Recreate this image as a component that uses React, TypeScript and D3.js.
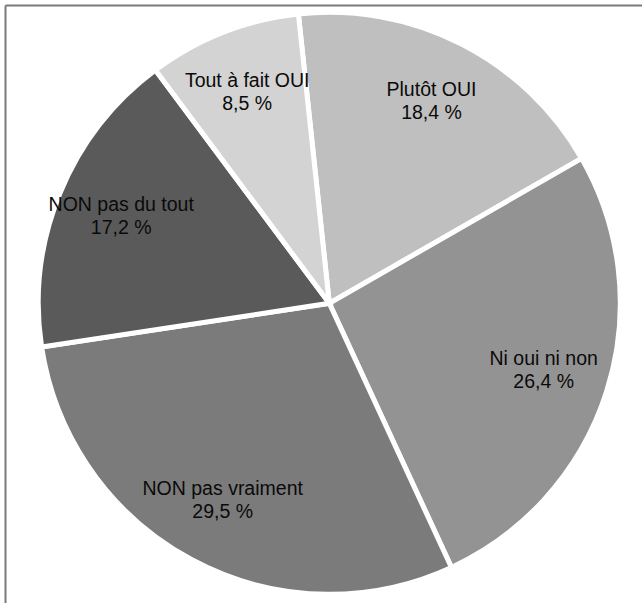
import React from "react";
import * as d3 from "d3";

const categories = ["Plutôt OUI", "Ni oui ni non", "NON pas vraiment", "NON pas du tout", "Tout à fait OUI"];
const values = [18.4, 26.4, 29.5, 17.2, 8.5];
const valueLabels = ["18,4 %", "26,4 %", "29,5 %", "17,2 %", "8,5 %"];
const colors = ["#bfbfbf", "#939393", "#7b7b7b", "#5a5a5a", "#d3d3d3"];

const W = 642;
const H = 603;
const CX = 329.3;
const CY = 303.3;
const R = 291;
const LABEL_R = 225;
const START_DEG = -6.1;

export default function App() {
  const start = (START_DEG * Math.PI) / 180;
  const pie = d3
    .pie<number>()
    .sort(null)
    .value((d) => d)
    .startAngle(start)
    .endAngle(start + 2 * Math.PI);
  const arcs = pie(values);
  const arc = d3.arc<d3.PieArcDatum<number>>().innerRadius(0).outerRadius(R);
  const labelArc = d3.arc<d3.PieArcDatum<number>>().innerRadius(LABEL_R).outerRadius(LABEL_R);

  return (
    <svg
      width={W}
      height={H}
      style={{ position: "absolute", left: 0, top: 0, background: "#fff" }}
      fontFamily="'Liberation Sans', Arial, Helvetica, sans-serif"
    >
      <rect x={0} y={0} width={W} height={H} fill="#fff" />
      <line x1={5.5} y1={5.5} x2={W} y2={5.5} stroke="#7a7a7a" strokeWidth={2} />
      <line x1={5.5} y1={5.5} x2={5.5} y2={H} stroke="#7a7a7a" strokeWidth={2} />
      <g transform={`translate(${CX},${CY})`}>
        {arcs.map((a, i) => (
          <path key={i} d={arc(a) || ""} fill={colors[i]} stroke="#fff" strokeWidth={5} strokeLinejoin="miter" />
        ))}
        {arcs.map((a, i) => {
          const [x, y] = labelArc.centroid(a);
          return (
            <text key={"t" + i} x={x} y={y} textAnchor="middle" fontSize={19.5} fill="#0a0a0a">
              <tspan x={x} y={y - 6.5}>{categories[i]}</tspan>
              <tspan x={x} y={y + 16.5}>{valueLabels[i]}</tspan>
            </text>
          );
        })}
      </g>
    </svg>
  );
}
